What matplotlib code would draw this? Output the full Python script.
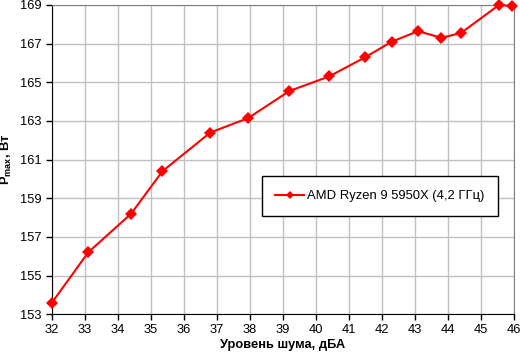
import matplotlib
matplotlib.use("Agg")
import matplotlib.pyplot as plt

noise_dba = [32.0, 33.1, 34.4, 35.35, 36.8, 37.95, 39.2, 40.4, 41.5, 42.3, 43.1, 43.8, 44.4, 45.55, 45.95]
pmax_w = [153.6, 156.2, 158.2, 160.4, 162.4, 163.15, 164.55, 165.3, 166.3, 167.1, 167.65, 167.3, 167.55, 169.0, 168.95]
series_label = "AMD Ryzen 9 5950X (4,2 ГГц)"
x_ticks = list(range(32, 47))
y_ticks = list(range(153, 170, 2))

plt.rcParams['font.family'] = ['Liberation Sans', 'DejaVu Sans']

fig = plt.figure(figsize=(5.2, 3.57), dpi=100)
ax = fig.add_axes([0.1, 0.12, 0.888, 0.866])

ax.plot(noise_dba, pmax_w, color='#ff0000', lw=1.5, marker='D', ms=6,
        markeredgewidth=0, clip_on=False, zorder=3)

ax.set_xlim(32, 46)
ax.set_ylim(153, 169)
ax.set_xticks(x_ticks)
ax.set_yticks(y_ticks)
ax.grid(True, color='#c0c0c0', lw=1)
ax.set_axisbelow(True)
for s in ['top', 'right']:
    ax.spines[s].set_color('#808080')
for s in ['left', 'bottom']:
    ax.spines[s].set_color('black')
ax.tick_params(direction='out', length=4, width=1, labelsize=9.3, colors='black')
ax.tick_params(axis='x', pad=3)

ax.set_xlabel("Уровень шума, дБА", fontsize=9.3, fontweight='bold', labelpad=2)
ax.set_ylabel(r"P$_{\mathregular{max}}$, Вт", fontsize=9.3, fontweight='bold', labelpad=4)

# legend handle: short line with small diamond
handle, = ax.plot([], [], color='#ff0000', lw=1.5, marker='D', ms=4, markeredgewidth=0)
leg = ax.legend([handle], [series_label], loc='center', bbox_to_anchor=(0.71, 0.382), fontsize=9.4,
                frameon=True, fancybox=False, framealpha=1, edgecolor='black',
                borderpad=1.05, handlelength=2.2, handletextpad=0.2, borderaxespad=0)
leg.get_frame().set_linewidth(1)

fig.savefig("out.png", dpi=100)
